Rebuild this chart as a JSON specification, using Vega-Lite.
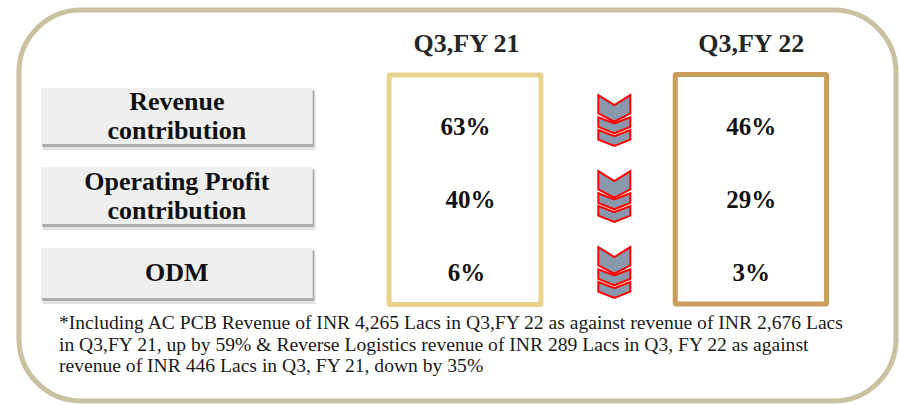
{
  "$schema": "https://vega.github.io/schema/vega-lite/v6.json",
  "width": 899,
  "height": 405,
  "autosize": {"type": "fit", "contains": "padding"},
  "padding": 0,
  "background": "white",
  "config": {"view": {"stroke": null}},
  "datasets": {
    "frame": [{"x": 19, "x2": 897, "y": 10, "y2": 401}],
    "metrics": [
      {"metric": "Revenue contribution", "x": 41, "x2": 313, "y": 88, "y2": 144},
      {"metric": "Operating Profit contribution", "x": 41, "x2": 313, "y": 167, "y2": 224},
      {"metric": "ODM", "x": 41, "x2": 313, "y": 248, "y2": 298}
    ],
    "metricText": [
      {"text": "Revenue", "x": 177, "y": 102},
      {"text": "contribution", "x": 177, "y": 131},
      {"text": "Operating Profit", "x": 177, "y": 182},
      {"text": "contribution", "x": 177, "y": 211},
      {"text": "ODM", "x": 177, "y": 273}
    ],
    "periods": [
      {"period": "Q3,FY 21", "x": 389.5, "x2": 541.5, "y": 75, "y2": 304.5},
      {"period": "Q3,FY 22", "x": 676, "x2": 827.5, "y": 74.5, "y2": 304}
    ],
    "headers": [
      {"period": "Q3,FY 21", "x": 467, "y": 44},
      {"period": "Q3,FY 22", "x": 752, "y": 44}
    ],
    "values": [
      {"metric": "Revenue contribution", "period": "Q3,FY 21", "value": 0.63, "x": 466, "y": 127},
      {"metric": "Operating Profit contribution", "period": "Q3,FY 21", "value": 0.40, "x": 471, "y": 200},
      {"metric": "ODM", "period": "Q3,FY 21", "value": 0.06, "x": 467, "y": 273},
      {"metric": "Revenue contribution", "period": "Q3,FY 22", "value": 0.46, "x": 752, "y": 127},
      {"metric": "Operating Profit contribution", "period": "Q3,FY 22", "value": 0.29, "x": 752, "y": 200},
      {"metric": "ODM", "period": "Q3,FY 22", "value": 0.03, "x": 752, "y": 273}
    ],
    "chevrons": [
      {"metric": "Revenue contribution", "kind": "big", "x": 615, "y": 108.4},
      {"metric": "Revenue contribution", "kind": "small", "x": 615, "y": 125.3},
      {"metric": "Revenue contribution", "kind": "small", "x": 615, "y": 138},
      {"metric": "Operating Profit contribution", "kind": "big", "x": 615, "y": 184.4},
      {"metric": "Operating Profit contribution", "kind": "small", "x": 615, "y": 201.3},
      {"metric": "Operating Profit contribution", "kind": "small", "x": 615, "y": 214},
      {"metric": "ODM", "kind": "big", "x": 615, "y": 260.4},
      {"metric": "ODM", "kind": "small", "x": 615, "y": 277.3},
      {"metric": "ODM", "kind": "small", "x": 615, "y": 290}
    ],
    "footnote": [
      {"text": "*Including AC PCB Revenue of INR 4,265 Lacs in Q3,FY 22 as against revenue of INR 2,676 Lacs", "x": 59, "y": 323},
      {"text": "in Q3,FY 21, up by 59% & Reverse Logistics revenue of INR 289 Lacs in Q3, FY 22 as against", "x": 59, "y": 344.5},
      {"text": "revenue of INR 446 Lacs in Q3, FY 21, down by 35%", "x": 59, "y": 366}
    ]
  },
  "encoding": {
    "x": {"field": "x", "type": "quantitative", "scale": {"domain": [0, 899], "nice": false, "zero": false}, "axis": null},
    "y": {"field": "y", "type": "quantitative", "scale": {"domain": [0, 405], "nice": false, "zero": false, "reverse": true}, "axis": null}
  },
  "layer": [
    {
      "data": {"name": "frame"},
      "mark": {"type": "rect", "cornerRadius": 62, "fill": "transparent", "stroke": "#c9c19f", "strokeWidth": 5},
      "encoding": {"x2": {"field": "x2"}, "y2": {"field": "y2"}}
    },
    {
      "data": {"name": "metrics"},
      "mark": {"type": "rect", "fill": "#c4c4c4", "opacity": 0.5, "xOffset": 2, "x2Offset": 3, "yOffset": 3, "y2Offset": 6},
      "encoding": {"x2": {"field": "x2"}, "y2": {"field": "y2"}}
    },
    {
      "data": {"name": "metrics"},
      "mark": {"type": "rect", "fill": "#8a8a8a", "opacity": 0.6, "xOffset": 1, "x2Offset": 1.5, "yOffset": 2, "y2Offset": 3},
      "encoding": {"x2": {"field": "x2"}, "y2": {"field": "y2"}}
    },
    {
      "data": {"name": "metrics"},
      "mark": {"type": "rect", "fill": "#efefef"},
      "encoding": {"x2": {"field": "x2"}, "y2": {"field": "y2"}}
    },
    {
      "data": {"name": "metricText"},
      "mark": {"type": "text", "font": "Liberation Serif", "fontSize": 26, "fontWeight": "bold", "color": "#111111", "align": "center", "baseline": "middle"},
      "encoding": {"text": {"field": "text", "type": "nominal"}}
    },
    {
      "data": {"name": "periods"},
      "mark": {"type": "rect", "fill": "transparent", "strokeWidth": 5, "cornerRadius": 1},
      "encoding": {
        "x2": {"field": "x2"},
        "y2": {"field": "y2"},
        "stroke": {"field": "period", "type": "nominal", "scale": {"domain": ["Q3,FY 21", "Q3,FY 22"], "range": ["#e8d28c", "#c99d5a"]}, "legend": null}
      }
    },
    {
      "data": {"name": "headers"},
      "mark": {"type": "text", "font": "Liberation Serif", "fontSize": 26, "fontWeight": "bold", "color": "#262626", "align": "center", "baseline": "middle"},
      "encoding": {"text": {"field": "period", "type": "nominal"}}
    },
    {
      "data": {"name": "values"},
      "mark": {"type": "text", "font": "Liberation Serif", "fontSize": 25, "fontWeight": "bold", "color": "#111111", "align": "center", "baseline": "middle"},
      "encoding": {"text": {"field": "value", "type": "quantitative", "format": ".0%"}}
    },
    {
      "data": {"name": "chevrons"},
      "transform": [{"filter": "datum.kind === 'small'"}],
      "mark": {"type": "point", "filled": true, "size": 1024, "shape": "M-1,-0.5 L0,-0.12 L1,-0.5 L1,0.1 L0,0.5 L-1,0.1 Z", "fill": "#8899ad", "fillOpacity": 1, "stroke": "#ff0000", "strokeWidth": 2, "opacity": 1}
    },
    {
      "data": {"name": "chevrons"},
      "transform": [{"filter": "datum.kind === 'big'"}],
      "mark": {"type": "point", "filled": true, "size": 1024, "shape": "M-1,-0.83 L0,-0.21 L1,-0.83 L1,0.31 L0,0.83 L-1,0.31 Z", "fill": "#8899ad", "fillOpacity": 1, "stroke": "#ff0000", "strokeWidth": 2, "opacity": 1}
    },
    {
      "data": {"name": "footnote"},
      "mark": {"type": "text", "font": "Liberation Serif", "fontSize": 19.6, "color": "#1a1a1a", "align": "left", "baseline": "middle"},
      "encoding": {"text": {"field": "text", "type": "nominal"}}
    }
  ]
}
